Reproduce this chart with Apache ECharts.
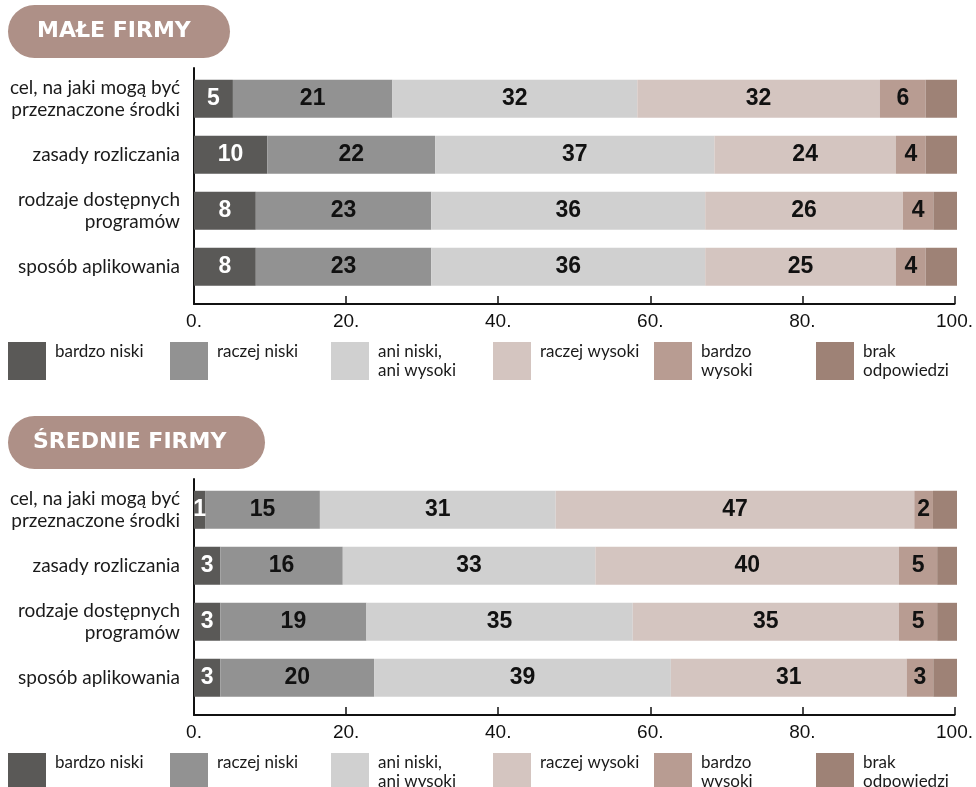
<!DOCTYPE html>
<html><head><meta charset="utf-8">
<script src="https://cdn.jsdelivr.net/npm/echarts@6/dist/echarts.min.js"></script>
<style>html,body{margin:0;padding:0;background:#fff}#c{width:976px;height:787px}</style>
</head><body><div id="c"></div>
<script>
// ---------- data ----------
const categories = ['cel, na jaki mogą być\nprzeznaczone środki', 'zasady rozliczania', 'rodzaje dostępnych\nprogramów', 'sposób aplikowania'];
const seriesNames = ['bardzo niski', 'raczej niski', 'ani niski, ani wysoki', 'raczej wysoki', 'bardzo wysoki', 'brak odpowiedzi'];
const legendLabels = ['bardzo niski\n ', 'raczej niski\n ', 'ani niski,\nani wysoki', 'raczej wysoki\n ', 'bardzo\nwysoki', 'brak\nodpowiedzi'];
const titles = ['MAŁE FIRMY', 'ŚREDNIE FIRMY'];
const xTickValues = [0, 20, 40, 60, 80, 100];

// Małe firmy
const smallBardzoNiski   = [5.1, 9.6, 8.1, 8.1];
const smallRaczejNiski   = [20.9, 22.0, 23.0, 23.0];
const smallAni           = [32.1, 36.6, 35.9, 35.9];
const smallRaczejWysoki  = [31.8, 23.8, 25.9, 25.0];
const smallBardzoWysoki  = [6.0, 3.9, 4.0, 3.9];
const smallBrak          = [4.1, 4.1, 3.1, 4.1];

// Średnie firmy
const mediumBardzoNiski  = [1.45, 3.45, 3.45, 3.45];
const mediumRaczejNiski  = [15.05, 16.05, 19.15, 20.15];
const mediumAni          = [30.9, 33.1, 34.9, 38.9];
const mediumRaczejWysoki = [47.0, 39.8, 34.9, 30.9];
const mediumBardzoWysoki = [2.45, 5.0, 5.0, 3.49];
const mediumBrak         = [3.15, 2.6, 2.6, 3.11];

const panels = [
  [smallBardzoNiski, smallRaczejNiski, smallAni, smallRaczejWysoki, smallBardzoWysoki, smallBrak],
  [mediumBardzoNiski, mediumRaczejNiski, mediumAni, mediumRaczejWysoki, mediumBardzoWysoki, mediumBrak]
];

// ---------- style ----------
const colors = ['#5a5957', '#929292', '#d0d0d0', '#d4c5c0', '#b89c92', '#9e8276'];
const labelColors = ['#ffffff', '#111111', '#111111', '#111111', '#111111', '#111111'];
const pillColor = '#ae9087';
const textFont = 'Lato';
const legendX = [8, 170, 331, 493, 654, 816];
const panelOffset = [0, 411];
const pillWidth = [222, 257];
const pillLeftPad = [29, 25];
const titleFont = 'bold 22px "DejaVu Sans"';

const measure = (function () {
  const ctx = document.createElement('canvas').getContext('2d');
  return function (txt, font) { ctx.font = font; return ctx.measureText(txt).width; };
})();

const grid = [], xAxis = [], yAxis = [], series = [], legend = [], title = [];

panels.forEach(function (vals, p) {
  const off = panelOffset[p];
  grid.push({ left: 194, width: 763, top: 70.8 + off, height: 224 });
  grid.push({ left: 194, width: 763, top: 68 + off, height: 236 });
  const gb = 2 * p, ga = 2 * p + 1;

  xAxis.push({ gridIndex: gb, type: 'value', min: 0, max: 100, show: false });
  xAxis.push({
    gridIndex: ga, type: 'value', min: 0, max: 100, interval: 20,
    axisLine: { show: true, lineStyle: { color: '#111', width: 2 } },
    axisTick: { show: true, inside: true, length: 8, lineStyle: { color: '#111', width: 1.5 } },
    splitLine: { show: false },
    axisLabel: {
      margin: 8, color: '#111', fontSize: 19, fontFamily: 'Liberation Sans',
      formatter: function (v) { return xTickValues.indexOf(v) >= 0 ? v + '.' : ''; }
    }
  });
  yAxis.push({
    gridIndex: gb, type: 'category', inverse: true, data: categories,
    axisLine: { show: false }, axisTick: { show: false },
    axisLabel: { margin: 14, color: '#1a1a1a', fontSize: 19, lineHeight: 22, fontFamily: textFont }
  });
  yAxis.push({
    gridIndex: ga, type: 'value', min: 0, max: 1,
    axisLine: { show: true, lineStyle: { color: '#111', width: 2 } },
    axisTick: { show: false }, axisLabel: { show: false }, splitLine: { show: false }
  });

  vals.forEach(function (arr, i) {
    series.push({
      type: 'bar', name: seriesNames[i], stack: 'panel' + p,
      xAxisIndex: gb, yAxisIndex: gb, barWidth: 38,
      data: arr,
      itemStyle: { color: colors[i] },
      label: {
        show: i < 5, position: 'inside', color: labelColors[i],
        fontFamily: 'Liberation Sans', fontWeight: 'bold', fontSize: 23,
        formatter: function (pp) { return String(Math.round(pp.value)); }
      },
      emphasis: { disabled: true },
      animation: false
    });
  });

  seriesNames.forEach(function (nm, i) {
    legend.push({
      data: [nm], left: legendX[i], top: 342 + off, padding: 0,
      itemWidth: 38, itemHeight: 38, icon: 'rect', selectedMode: false,
      formatter: function () { return legendLabels[i]; },
      textStyle: { fontFamily: textFont, fontSize: 17, lineHeight: 19, color: '#1a1a1a', padding: [0, 0, 0, 4] }
    });
  });

  const tw = measure(titles[p], titleFont);
  title.push({
    text: titles[p], left: 8, top: 5 + off,
    backgroundColor: pillColor, borderRadius: 27,
    padding: [0, Math.max(0, pillWidth[p] - pillLeftPad[p] - tw), 0, pillLeftPad[p]],
    textStyle: { color: '#fff', fontFamily: 'DejaVu Sans', fontWeight: 'bold', fontSize: 22, lineHeight: 53 }
  });
});

const chart = echarts.init(document.getElementById('c'), null, { renderer: 'canvas' });
chart.setOption({ animation: false, backgroundColor: '#fff', title: title, grid: grid, xAxis: xAxis, yAxis: yAxis, legend: legend, series: series });
</script>
</body></html>
